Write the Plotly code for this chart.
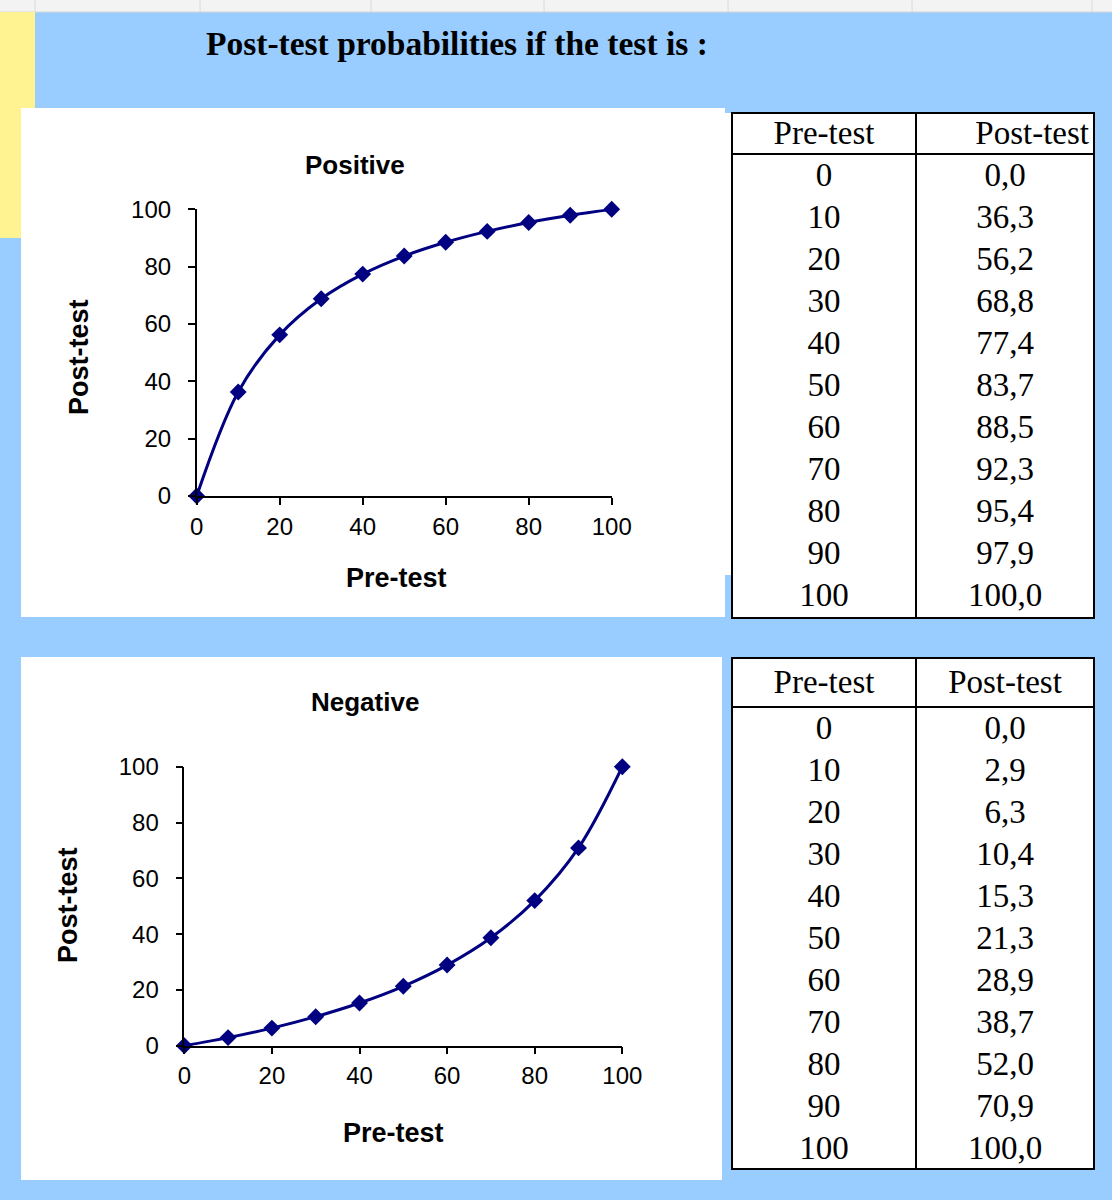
import plotly.graph_objects as go

# ---------------- data ----------------
pre_test = [0, 10, 20, 30, 40, 50, 60, 70, 80, 90, 100]
post_positive = [0.0, 36.3, 56.2, 68.8, 77.4, 83.7, 88.5, 92.3, 95.4, 97.9, 100.0]
post_negative = [0.0, 2.9, 6.3, 10.4, 15.3, 21.3, 28.9, 38.7, 52.0, 70.9, 100.0]
axis_ticks = [0, 20, 40, 60, 80, 100]
table_headers = ["Pre-test", "Post-test"]
chart_titles = ["Positive", "Negative"]
main_title = "Post-test probabilities if the test is :"
x_title = "Pre-test"
y_title = "Post-test"

# ---------------- styling ----------------
W, H = 1112, 1200
BLUE = "#99CCFF"
YELLOW = "#FFF291"
NAVY = "#000080"
SANS = "Liberation Sans, Arial, sans-serif"
SERIF = "Liberation Serif, Times New Roman, serif"


def fx(x):
    return x / W


def fy(y):
    return 1 - y / H


def fmt(v):
    return f"{v:.1f}".replace(".", ",")


fig = go.Figure()

# ---------------- charts ----------------
for vals, xa, ya in [(post_positive, "x", "y"), (post_negative, "x2", "y2")]:
    fig.add_trace(go.Scatter(
        x=pre_test, y=vals, mode="lines+markers",
        line=dict(color=NAVY, width=3, shape="spline", smoothing=1),
        marker=dict(symbol="diamond", size=13, color=NAVY),
        cliponaxis=False, xaxis=xa, yaxis=ya, showlegend=False, hoverinfo="x+y",
    ))

axis_common = dict(
    range=[0, 100], tickvals=axis_ticks, showline=True, linecolor="black", linewidth=1.5,
    ticks="outside", ticklen=7, tickwidth=1.5, tickcolor="black", showgrid=False,
    zeroline=False, tickfont=dict(family=SANS, size=24, color="black"), fixedrange=True,
    automargin=False,
)

# ---------------- tables (drawn on a full-canvas pixel axis) ----------------
tables = [
    dict(top=113, bottom=618, head_h=41, post=post_positive, head2_right=True),
    dict(top=658, bottom=1169, head_h=49, post=post_negative, head2_right=False),
]
T_LEFT, T_DIV, T_RIGHT = 732, 916, 1094
ROW_H = 42
TXT_DY = 2.5
col1_c = (T_LEFT + T_DIV) / 2
col2_c = (T_DIV + T_RIGHT) / 2

shapes = []


def prect(x0, y0, x1, y1, fill):
    return dict(type="rect", xref="paper", yref="paper", x0=fx(x0), x1=fx(x1), y0=fy(y1), y1=fy(y0),
                fillcolor=fill, layer="below", line=dict(width=0))


shapes.append(prect(0, 0, W, 12, "#F3F3F3"))
shapes.append(dict(type="line", xref="paper", yref="paper", x0=0, x1=1, y0=fy(12), y1=fy(12),
                   line=dict(color="#D6D6D6", width=1), layer="below"))
for gx in [35, 200, 371, 544, 728, 912, 1092]:
    shapes.append(dict(type="line", xref="paper", yref="paper", x0=fx(gx), x1=fx(gx), y0=fy(0), y1=fy(12),
                       line=dict(color="#DADADA", width=1), layer="below"))
shapes.append(prect(0, 12, 35, 238, YELLOW))
shapes.append(prect(21, 108, 725, 617, "white"))
shapes.append(prect(725, 113, 732, 575, "white"))
shapes.append(prect(21, 657, 722, 1180, "white"))

tfont = dict(family=SERIF, size=33, color="black")
for t in tables:
    shapes.append(dict(type="rect", xref="x3", yref="y3", x0=T_LEFT, x1=T_RIGHT, y0=t["top"], y1=t["bottom"],
                       fillcolor="white", line=dict(color="black", width=2), layer="below"))
    shapes.append(dict(type="line", xref="x3", yref="y3", x0=T_LEFT, x1=T_RIGHT,
                       y0=t["top"] + t["head_h"], y1=t["top"] + t["head_h"],
                       line=dict(color="black", width=2), layer="above"))
    shapes.append(dict(type="line", xref="x3", yref="y3", x0=T_DIV, x1=T_DIV, y0=t["top"], y1=t["bottom"],
                       line=dict(color="black", width=2), layer="above"))

    row_y = [t["top"] + t["head_h"] + ROW_H * (k + 0.5) + TXT_DY for k in range(len(pre_test))]
    head_y = t["top"] + t["head_h"] / 2 + TXT_DY
    fig.add_trace(go.Scatter(x=[col1_c], y=[head_y], mode="text", text=[table_headers[0]],
                             textposition="middle center", textfont=tfont, xaxis="x3", yaxis="y3",
                             showlegend=False, hoverinfo="skip"))
    if t["head2_right"]:
        fig.add_trace(go.Scatter(x=[T_RIGHT - 5], y=[head_y], mode="text", text=[table_headers[1]],
                                 textposition="middle left", textfont=tfont, xaxis="x3", yaxis="y3",
                                 showlegend=False, hoverinfo="skip"))
    else:
        fig.add_trace(go.Scatter(x=[col2_c], y=[head_y], mode="text", text=[table_headers[1]],
                                 textposition="middle center", textfont=tfont, xaxis="x3", yaxis="y3",
                                 showlegend=False, hoverinfo="skip"))
    fig.add_trace(go.Scatter(x=[col1_c] * len(pre_test), y=row_y, mode="text",
                             text=[str(v) for v in pre_test], textposition="middle center",
                             textfont=tfont, xaxis="x3", yaxis="y3", showlegend=False, hoverinfo="skip"))
    fig.add_trace(go.Scatter(x=[col2_c] * len(pre_test), y=row_y, mode="text",
                             text=[fmt(v) for v in t["post"]], textposition="middle center",
                             textfont=tfont, xaxis="x3", yaxis="y3", showlegend=False, hoverinfo="skip"))

# ---------------- annotations ----------------
ann = []
ann.append(dict(text=f"<b>{main_title}</b>", x=fx(457), y=fy(44), xref="paper", yref="paper",
                showarrow=False, font=dict(family=SERIF, size=33.5, color="black"),
                xanchor="center", yanchor="middle"))
title_font = dict(family=SANS, size=26, color="black")
axis_title_font = dict(family=SANS, size=27, color="black")
for title, (tx, ty), (xx, xy), (yx, yy) in [
    (chart_titles[0], (355, 165), (396, 578), (79, 357)),
    (chart_titles[1], (365, 702), (393, 1133), (68, 905)),
]:
    ann.append(dict(text=f"<b>{title}</b>", x=fx(tx), y=fy(ty), xref="paper", yref="paper",
                    showarrow=False, font=title_font, xanchor="center", yanchor="middle"))
    ann.append(dict(text=f"<b>{x_title}</b>", x=fx(xx), y=fy(xy), xref="paper", yref="paper",
                    showarrow=False, font=axis_title_font, xanchor="center", yanchor="middle"))
    ann.append(dict(text=f"<b>{y_title}</b>", x=fx(yx), y=fy(yy), xref="paper", yref="paper",
                    showarrow=False, font=axis_title_font, xanchor="center", yanchor="middle",
                    textangle=-90))

fig.update_layout(
    width=W, height=H, margin=dict(l=0, r=0, t=0, b=0, pad=0, autoexpand=False),
    paper_bgcolor=BLUE, plot_bgcolor="rgba(0,0,0,0)",
    xaxis=dict(axis_common, domain=[fx(196.7), fx(611.7)], anchor="y", ticklabelstandoff=1),
    yaxis=dict(axis_common, domain=[fy(496), fy(209.3)], anchor="x", ticklabelstandoff=12),
    xaxis2=dict(axis_common, domain=[fx(184.3), fx(622.3)], anchor="y2", ticklabelstandoff=1),
    yaxis2=dict(axis_common, domain=[fy(1045.7), fy(766.7)], anchor="x2", ticklabelstandoff=12),
    xaxis3=dict(domain=[0, 1], range=[0, W], visible=False, fixedrange=True, anchor="y3",
                automargin=False),
    yaxis3=dict(domain=[0, 1], range=[H, 0], visible=False, fixedrange=True, anchor="x3",
                automargin=False),
    shapes=shapes, annotations=ann, showlegend=False,
)

fig.write_html(
    "out.html",
    config={"displayModeBar": False},
    post_script="document.body.style.margin='0';document.body.style.background='#99CCFF';",
)
